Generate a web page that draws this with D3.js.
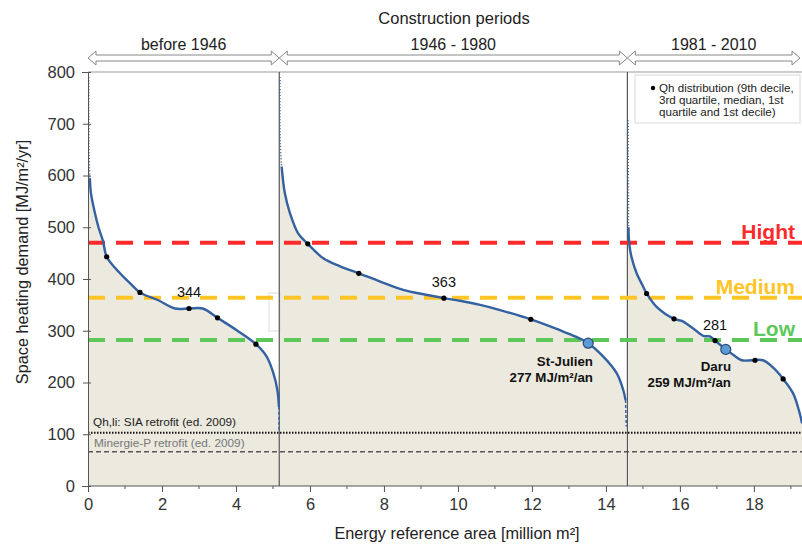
<!DOCTYPE html>
<html><head><meta charset="utf-8">
<script src="https://cdn.jsdelivr.net/npm/d3@7"></script>
<style>
body{margin:0;background:#fff;}
svg{display:block;font-family:"Liberation Sans",Arial,sans-serif;}
</style></head>
<body><svg id="c" width="802" height="544"></svg>
<script>
// ---------- data ----------
const periods = ["before 1946", "1946 - 1980", "1981 - 2010"];
const periodBounds = [0, 5.17, 14.58, 19.3];
const xTicks = [0, 2, 4, 6, 8, 10, 12, 14, 16, 18];
const yTicks = [0, 100, 200, 300, 400, 500, 600, 700, 800];

// Qh distribution curves (area [million m²], demand [MJ/m²/yr])
const tailTop1 = [[0.02, 790], [0.02, 720], [0.03, 640], [0.05, 595]];
const curve1 = [[0.05, 595], [0.08, 566], [0.17, 533], [0.28, 501], [0.41, 472], [0.505, 443], [0.865, 411], [1.135, 392], [1.405, 374], [1.90, 359], [2.35, 343], [2.73, 343], [3.10, 343], [3.50, 325], [4.02, 301], [4.54, 274], [4.83, 250], [5.01, 218], [5.12, 185], [5.16, 153]];
const tailBot1 = [[5.16, 153], [5.165, 105]];

const tailTop2 = [[5.19, 790], [5.19, 720], [5.20, 660], [5.235, 617]];
const curve2 = [[5.235, 617], [5.32, 566], [5.46, 527], [5.68, 488], [5.94, 468], [6.36, 440], [6.8, 425], [7.32, 411], [7.9, 395], [8.52, 379], [9.1, 370], [9.62, 363], [10.05, 358], [10.6, 350], [11.14, 340], [11.97, 322], [12.76, 301], [13.2, 288], [13.52, 276], [13.93, 250], [14.29, 218], [14.47, 185], [14.53, 166]];
const tailBot2 = [[14.53, 166], [14.55, 115]];

const tailTop3 = [[14.60, 707], [14.60, 640], [14.61, 560], [14.61, 500]];
const curve3 = [[14.61, 500], [14.63, 469], [14.69, 443], [14.83, 411], [14.96, 392], [15.10, 372], [15.37, 346], [15.84, 323], [16.05, 319], [16.35, 305], [16.63, 290], [16.81, 289], [16.95, 281], [17.24, 264], [17.45, 253], [17.67, 243], [18.25, 243], [18.5, 230], [18.79, 207], [19.06, 179], [19.24, 140], [19.30, 121]];

// deciles / quartiles markers
const dots1 = [[0.505, 443], [1.405, 374], [2.73, 343], [3.50, 325], [4.54, 274]];
const dots2 = [[5.94, 468], [7.32, 411], [9.62, 363], [11.97, 322]];
const dots3 = [[15.10, 372], [15.84, 323], [16.95, 281], [18.03, 243], [18.79, 207]];
const medians = [[2.73, 343, "344"], [9.62, 363, "363"], [16.95, 281, "281"]];

// case studies
const cases = [
  {name: "St-Julien", label: "277 MJ/m²/an", x: 13.52, y: 276},
  {name: "Daru", label: "259 MJ/m²/an", x: 17.24, y: 264}
];

// thresholds
const levels = [
  {name: "Hight", value: 470, color: "#FF2B2B"},
  {name: "Medium", value: 364, color: "#FFC526"},
  {name: "Low", value: 282, color: "#5DC75A"}
];
const standards = [
  {name: "Qh,li: SIA retrofit (ed. 2009)", value: 103},
  {name: "Minergie-P retrofit (ed. 2009)", value: 66}
];

// ---------- drawing ----------
const svg = d3.select("#c");
const x = d3.scaleLinear().domain([0, 19.3]).range([88, 802]);
const y = d3.scaleLinear().domain([0, 800]).range([486, 72]);

const fillC = "#ECE9DF", lineC = "#3461A1", axisC = "#555";

// filled areas
const area = d3.area().x(d => x(d[0])).y0(y(0)).y1(d => y(d[1])).curve(d3.curveCatmullRom);
const segs = [
  [tailTop1, curve1, tailBot1],
  [tailTop2, curve2, tailBot2],
  [tailTop3, curve3, []]
];
segs.forEach(s => {
  const pts = s[0].concat(s[1].slice(1), s[2].slice(1));
  svg.append("path").attr("d", area(pts)).attr("fill", fillC);
});

// small box artifact
svg.append("rect").attr("x", 269).attr("y", 293).attr("width", 11).attr("height", 38)
  .attr("fill", "#fff").attr("stroke", "#ddd").attr("stroke-width", 1);

// top border
svg.append("line").attr("x1", x(0)).attr("x2", 802).attr("y1", y(800)).attr("y2", y(800))
  .attr("stroke", "#999").attr("stroke-width", 1);

// standards lines
svg.append("line").attr("x1", x(0)).attr("x2", 802).attr("y1", y(standards[0].value)).attr("y2", y(standards[0].value))
  .attr("stroke", "#111").attr("stroke-width", 2).attr("stroke-dasharray", "1.5,1.5");
svg.append("line").attr("x1", x(0)).attr("x2", 802).attr("y1", y(standards[1].value)).attr("y2", y(standards[1].value))
  .attr("stroke", "#555").attr("stroke-width", 1.5).attr("stroke-dasharray", "5,3");
svg.append("text").attr("x", 93).attr("y", y(standards[0].value) - 7).attr("font-size", 11.8).attr("fill", "#222").text(standards[0].name);
svg.append("text").attr("x", 94).attr("y", y(standards[1].value) - 5).attr("font-size", 11.8).attr("fill", "#777").text(standards[1].name);

// period dividers
[periodBounds[1], periodBounds[2]].forEach(v => {
  svg.append("line").attr("x1", x(v)).attr("x2", x(v)).attr("y1", y(800)).attr("y2", y(0))
    .attr("stroke", axisC).attr("stroke-width", 1.2);
});

// threshold lines
levels.forEach(l => {
  svg.append("line").attr("x1", x(0)).attr("x2", 802).attr("y1", y(l.value)).attr("y2", y(l.value))
    .attr("stroke", l.color).attr("stroke-width", 4).attr("stroke-dasharray", "17,11");
});

// curves
const line = d3.line().x(d => x(d[0])).y(d => y(d[1])).curve(d3.curveCatmullRom);
segs.forEach(s => {
  if (s[0].length) svg.append("path").attr("d", line(s[0])).attr("fill", "none")
    .attr("stroke", lineC).attr("stroke-width", 1.5).attr("stroke-dasharray", "1,2");
  svg.append("path").attr("d", line(s[1])).attr("fill", "none").attr("stroke", lineC).attr("stroke-width", 2.4);
  if (s[2].length) svg.append("path").attr("d", line(s[2])).attr("fill", "none")
    .attr("stroke", lineC).attr("stroke-width", 1.5).attr("stroke-dasharray", "3,2");
});

// dots
dots1.concat(dots2, dots3).forEach(d => {
  svg.append("circle").attr("cx", x(d[0])).attr("cy", y(d[1])).attr("r", 2.6).attr("fill", "#000");
});
medians.forEach(m => {
  svg.append("text").attr("x", x(m[0])).attr("y", y(m[1]) - 11).attr("text-anchor", "middle")
    .attr("font-size", 14.5).attr("fill", "#111").text(m[2]);
});

// cases
cases.forEach(c => {
  svg.append("circle").attr("cx", x(c.x)).attr("cy", y(c.y)).attr("r", 5)
    .attr("fill", "#5B9BD5").attr("stroke", "#2B4A7A").attr("stroke-width", 1.2);
});
svg.append("text").attr("x", 593).attr("y", 366).attr("text-anchor", "end").attr("font-size", 13.3).attr("font-weight", "bold").attr("fill", "#111").text(cases[0].name);
svg.append("text").attr("x", 593).attr("y", 382).attr("text-anchor", "end").attr("font-size", 13.3).attr("font-weight", "bold").attr("fill", "#111").text(cases[0].label);
svg.append("text").attr("x", 731).attr("y", 371).attr("text-anchor", "end").attr("font-size", 13.3).attr("font-weight", "bold").attr("fill", "#111").text(cases[1].name);
svg.append("text").attr("x", 731).attr("y", 387).attr("text-anchor", "end").attr("font-size", 13.3).attr("font-weight", "bold").attr("fill", "#111").text(cases[1].label);

// level labels
const lblY = [239, 294, 336];
levels.forEach((l, i) => {
  svg.append("text").attr("x", 795).attr("y", lblY[i]).attr("text-anchor", "end")
    .attr("font-size", 21).attr("font-weight", "bold").attr("fill", l.color).text(l.name);
});

// axes
const yAxis = d3.axisLeft(y).tickValues(yTicks).tickSize(6).tickPadding(7);
const gy = svg.append("g").attr("transform", `translate(${x(0)},0)`).call(yAxis);
gy.select(".domain").attr("stroke", axisC);
gy.selectAll(".tick line").attr("stroke", axisC).attr("x2", -5).attr("x1", 3);
gy.selectAll("text").attr("font-size", 16.5).attr("fill", "#333").attr("font-family", "Liberation Sans, Arial, sans-serif");

const xAxis = d3.axisBottom(x).tickValues(xTicks).tickSize(6).tickPadding(6);
const gx = svg.append("g").attr("transform", `translate(0,${y(0)})`).call(xAxis);
gx.select(".domain").attr("stroke", axisC).attr("d", `M${x(0)},0H802`);
gx.selectAll(".tick line").attr("stroke", axisC);
gx.selectAll("text").attr("font-size", 16.5).attr("fill", "#333").attr("font-family", "Liberation Sans, Arial, sans-serif");
const minorTicks = d3.range(1, 20, 2);
gx.selectAll(".minor").data(minorTicks).enter().append("line")
  .attr("x1", d => x(d)).attr("x2", d => x(d)).attr("y1", 0).attr("y2", 3).attr("stroke", axisC);

svg.append("text").attr("x", 457).attr("y", 539).attr("text-anchor", "middle").attr("font-size", 16.3).attr("fill", "#222")
  .text("Energy reference area [million m²]");
svg.append("text").attr("transform", "translate(28,262) rotate(-90)").attr("text-anchor", "middle").attr("font-size", 16.3).attr("fill", "#222")
  .text("Space heating demand [MJ/m²/yr]");

// header: construction periods
svg.append("text").attr("x", 454).attr("y", 24).attr("text-anchor", "middle").attr("font-size", 16.5).attr("fill", "#222").text("Construction periods");
function arrowPath(x0, x1, yc) {
  const hw = 3, hh = 7, hl = 8;
  return `M${x0},${yc} L${x0 + hl},${yc - hh} L${x0 + hl},${yc - hw} L${x1 - hl},${yc - hw} L${x1 - hl},${yc - hh} L${x1},${yc} L${x1 - hl},${yc + hh} L${x1 - hl},${yc + hw} L${x0 + hl},${yc + hw} L${x0 + hl},${yc + hh} Z`;
}
periods.forEach((p, i) => {
  const x0 = x(periodBounds[i]), x1 = Math.min(x(periodBounds[i + 1]), 800);
  svg.append("path").attr("d", arrowPath(x0, x1, 58)).attr("fill", "#fff").attr("stroke", "#888").attr("stroke-width", 1);
  svg.append("text").attr("x", (x0 + x1) / 2).attr("y", 50).attr("text-anchor", "middle").attr("font-size", 16).attr("fill", "#222").text(p);
});

// legend
svg.append("rect").attr("x", 635).attr("y", 75).attr("width", 165).attr("height", 48)
  .attr("fill", "#fff").attr("stroke", "#d8d8d8");
svg.append("circle").attr("cx", 653).attr("cy", 88).attr("r", 2.2).attr("fill", "#000");
const legLines = ["Qh distribution (9th decile,", "3rd quartile, median, 1st", "quartile and 1st decile)"];
legLines.forEach((t, i) => {
  svg.append("text").attr("x", 659).attr("y", 92 + i * 11.8).attr("font-size", 11.6).attr("fill", "#222").text(t);
});
</script></body></html>
